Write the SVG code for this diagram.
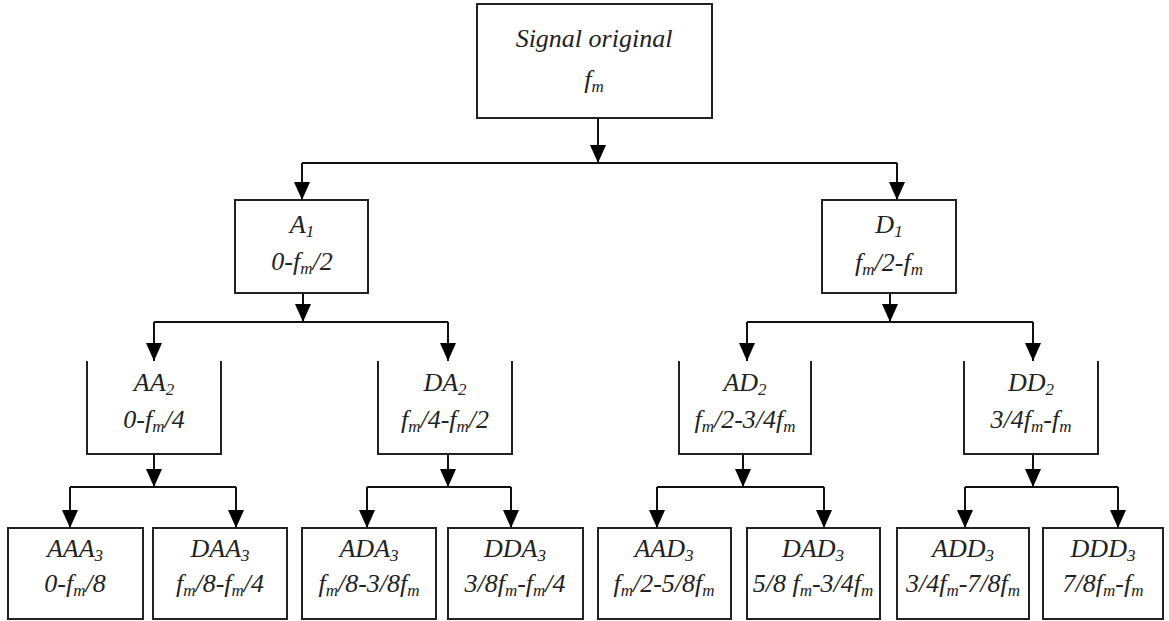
<svg xmlns="http://www.w3.org/2000/svg" width="1169" height="621" viewBox="0 0 1169 621">
<style>
.bx{fill:#fff;stroke:#222;stroke-width:2}
.ob{fill:none;stroke:#222;stroke-width:2}
.ln{fill:none;stroke:#111;stroke-width:2}
.t{font-family:"Liberation Serif","Times New Roman",serif;font-style:italic;font-size:26px;fill:#222;text-anchor:middle}
.s{font-size:17px}
</style>
<defs>
<marker id="ah" viewBox="0 0 18 16" refX="18" refY="8" markerWidth="18" markerHeight="16" markerUnits="userSpaceOnUse" orient="auto">
<path d="M0,0 L18,8 L0,16 z" fill="#000"/>
</marker>
</defs>
<rect width="1169" height="621" fill="#fff"/>

<g id="connectors">
<path class="ln" d="M598,118 V163" marker-end="url(#ah)"/>
<path class="ln" d="M302,163 H897"/>
<path class="ln" d="M302,163 V200" marker-end="url(#ah)"/>
<path class="ln" d="M897,163 V200" marker-end="url(#ah)"/>

<path class="ln" d="M303,293 V322" marker-end="url(#ah)"/>
<path class="ln" d="M154,322 H448"/>
<path class="ln" d="M154,322 V361" marker-end="url(#ah)"/>
<path class="ln" d="M448,322 V361" marker-end="url(#ah)"/>

<path class="ln" d="M890,293 V322" marker-end="url(#ah)"/>
<path class="ln" d="M747,322 H1033"/>
<path class="ln" d="M747,322 V361" marker-end="url(#ah)"/>
<path class="ln" d="M1033,322 V361" marker-end="url(#ah)"/>

<path class="ln" d="M154,454 V487" marker-end="url(#ah)"/>
<path class="ln" d="M70,487 H236"/>
<path class="ln" d="M70,487 V528" stroke="#777" stroke-width="1.5" marker-end="url(#ah)"/>
<path class="ln" d="M236,487 V528" marker-end="url(#ah)"/>

<path class="ln" d="M448,454 V487" marker-end="url(#ah)"/>
<path class="ln" d="M367,487 H511"/>
<path class="ln" d="M367,487 V528" marker-end="url(#ah)"/>
<path class="ln" d="M511,487 V528" marker-end="url(#ah)"/>

<path class="ln" d="M743,454 V487" marker-end="url(#ah)"/>
<path class="ln" d="M657,487 H824"/>
<path class="ln" d="M657,487 V528" stroke="#999" stroke-width="1.5" marker-end="url(#ah)"/>
<path class="ln" d="M824,487 V528" marker-end="url(#ah)"/>

<path class="ln" d="M1033,454 V487" marker-end="url(#ah)"/>
<path class="ln" d="M965,487 H1118"/>
<path class="ln" d="M965,487 V528" marker-end="url(#ah)"/>
<path class="ln" d="M1118,487 V528" stroke="#999" stroke-width="1.5" marker-end="url(#ah)"/>
</g>

<g id="n-signal">
<rect class="bx" x="477" y="4" width="235" height="114"/>
<text class="t" x="594" y="47" font-size="27">Signal original</text>
<text class="t" x="594" y="88">f<tspan class="s" dy="4">m</tspan></text>
</g>

<g id="n-A1">
<rect class="bx" x="235" y="200" width="133" height="93"/>
<text class="t" x="302" y="233">A<tspan class="s" dy="4">1</tspan></text>
<text class="t" x="302" y="270">0-f<tspan class="s" dy="4">m</tspan><tspan dy="-4">/2</tspan></text>
</g>

<g id="n-D1">
<rect class="bx" x="822" y="200" width="134" height="93"/>
<text class="t" x="889" y="233">D<tspan class="s" dy="4">1</tspan></text>
<text class="t" x="889" y="271">f<tspan class="s" dy="4">m</tspan><tspan dy="-4">/2-f</tspan><tspan class="s" dy="4">m</tspan></text>
</g>

<g id="n-AA2">
<path class="ob" d="M87,361 V454 H221 V361"/>
<text class="t" x="154" y="391">AA<tspan class="s" dy="4">2</tspan></text>
<text class="t" x="154" y="428">0-f<tspan class="s" dy="4">m</tspan><tspan dy="-4">/4</tspan></text>
</g>

<g id="n-DA2">
<path class="ob" d="M378,361 V454 H512 V361"/>
<text class="t" x="445" y="391">DA<tspan class="s" dy="4">2</tspan></text>
<text class="t" x="445" y="428">f<tspan class="s" dy="4">m</tspan><tspan dy="-4">/4-f</tspan><tspan class="s" dy="4">m</tspan><tspan dy="-4">/2</tspan></text>
</g>

<g id="n-AD2">
<path class="ob" d="M679,361 V454 H811 V361"/>
<text class="t" x="745" y="391">AD<tspan class="s" dy="4">2</tspan></text>
<text class="t" x="745" y="428">f<tspan class="s" dy="4">m</tspan><tspan dy="-4">/2-3/4f</tspan><tspan class="s" dy="4">m</tspan></text>
</g>

<g id="n-DD2">
<path class="ob" d="M964,361 V454 H1098 V361"/>
<text class="t" x="1031" y="391">DD<tspan class="s" dy="4">2</tspan></text>
<text class="t" x="1031" y="428">3/4f<tspan class="s" dy="4">m</tspan><tspan dy="-4">-f</tspan><tspan class="s" dy="4">m</tspan></text>
</g>

<g id="n-AAA3">
<rect class="bx" x="8" y="528" width="135" height="91"/>
<text class="t" x="75" y="557">AAA<tspan class="s" dy="4">3</tspan></text>
<text class="t" x="75" y="592">0-f<tspan class="s" dy="4">m</tspan><tspan dy="-4">/8</tspan></text>
</g>

<g id="n-DAA3">
<rect class="bx" x="153" y="528" width="134" height="91"/>
<text class="t" x="220" y="557">DAA<tspan class="s" dy="4">3</tspan></text>
<text class="t" x="220" y="592">f<tspan class="s" dy="4">m</tspan><tspan dy="-4">/8-f</tspan><tspan class="s" dy="4">m</tspan><tspan dy="-4">/4</tspan></text>
</g>

<g id="n-ADA3">
<rect class="bx" x="302" y="528" width="134" height="91"/>
<text class="t" x="369" y="557">ADA<tspan class="s" dy="4">3</tspan></text>
<text class="t" x="369" y="592">f<tspan class="s" dy="4">m</tspan><tspan dy="-4">/8-3/8f</tspan><tspan class="s" dy="4">m</tspan></text>
</g>

<g id="n-DDA3">
<rect class="bx" x="448" y="528" width="135" height="91"/>
<text class="t" x="515" y="557">DDA<tspan class="s" dy="4">3</tspan></text>
<text class="t" x="515" y="592">3/8f<tspan class="s" dy="4">m</tspan><tspan dy="-4">-f</tspan><tspan class="s" dy="4">m</tspan><tspan dy="-4">/4</tspan></text>
</g>

<g id="n-AAD3">
<rect class="bx" x="598" y="528" width="133" height="91"/>
<text class="t" x="664" y="557">AAD<tspan class="s" dy="4">3</tspan></text>
<text class="t" x="664" y="592">f<tspan class="s" dy="4">m</tspan><tspan dy="-4">/2-5/8f</tspan><tspan class="s" dy="4">m</tspan></text>
</g>

<g id="n-DAD3">
<rect class="bx" x="747" y="528" width="133" height="91"/>
<text class="t" x="813" y="557">DAD<tspan class="s" dy="4">3</tspan></text>
<text class="t" x="813" y="592">5/8 f<tspan class="s" dy="4">m</tspan><tspan dy="-4">-3/4f</tspan><tspan class="s" dy="4">m</tspan></text>
</g>

<g id="n-ADD3">
<rect class="bx" x="897" y="528" width="132" height="91"/>
<text class="t" x="963" y="557">ADD<tspan class="s" dy="4">3</tspan></text>
<text class="t" x="963" y="592">3/4f<tspan class="s" dy="4">m</tspan><tspan dy="-4">-7/8f</tspan><tspan class="s" dy="4">m</tspan></text>
</g>

<g id="n-DDD3">
<rect class="bx" x="1043" y="528" width="120" height="91"/>
<text class="t" x="1103" y="557">DDD<tspan class="s" dy="4">3</tspan></text>
<text class="t" x="1103" y="592">7/8f<tspan class="s" dy="4">m</tspan><tspan dy="-4">-f</tspan><tspan class="s" dy="4">m</tspan></text>
</g>
</svg>
